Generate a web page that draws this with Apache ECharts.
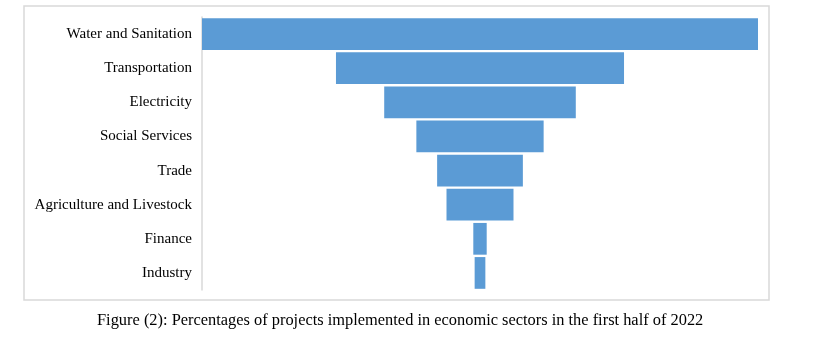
<!DOCTYPE html>
<html><head><meta charset="utf-8">
<script src="https://cdn.jsdelivr.net/npm/echarts@6/dist/echarts.min.js"></script>
<style>html,body{margin:0;padding:0;background:#fff}#c{width:818px;height:355px}</style>
</head><body><div id="c"></div>
<script>
const categories = ["Water and Sanitation","Transportation","Electricity","Social Services","Trade","Agriculture and Livestock","Finance","Industry"];
const values = [41.5, 21.5, 14.3, 9.5, 6.4, 5.0, 1.0, 0.8];
const caption = "Figure (2): Percentages of projects implemented in economic sectors in the first half of 2022";

const maxV = Math.max(...values);
const offsets = values.map(v => (maxV - v) / 2);

const chart = echarts.init(document.getElementById('c'), null, {renderer:'canvas'});
chart.setOption({
  animation: false,
  backgroundColor: '#fff',
  graphic: [{
    type: 'rect',
    shape: {x: 24, y: 6, width: 745, height: 294},
    style: {fill: 'none', stroke: '#d9d9d9', lineWidth: 1.5},
    silent: true, z: -1
  }],
  title: {
    text: caption, left: 97, top: 313, padding: 0,
    textStyle: {fontFamily: 'Liberation Serif', fontSize: 16.4, fontWeight: 'normal', color: '#000'}
  },
  grid: {left: 202, right: 60, top: 17, bottom: 65},
  xAxis: {type: 'value', min: 0, max: maxV, show: false},
  yAxis: {
    type: 'category', data: categories, inverse: true,
    axisLine: {show: true, lineStyle: {color: '#d9d9d9', width: 1.5}},
    axisTick: {show: false},
    axisLabel: {margin: 10, fontFamily: 'Liberation Serif', fontSize: 15, color: '#000'}
  },
  series: [
    {type: 'bar', stack: 'f', data: offsets, itemStyle: {color: 'transparent'}, barCategoryGap: '7%', silent: true},
    {type: 'bar', stack: 'f', data: values, itemStyle: {color: '#5b9bd5'}, barCategoryGap: '7%'}
  ]
});
</script></body></html>
